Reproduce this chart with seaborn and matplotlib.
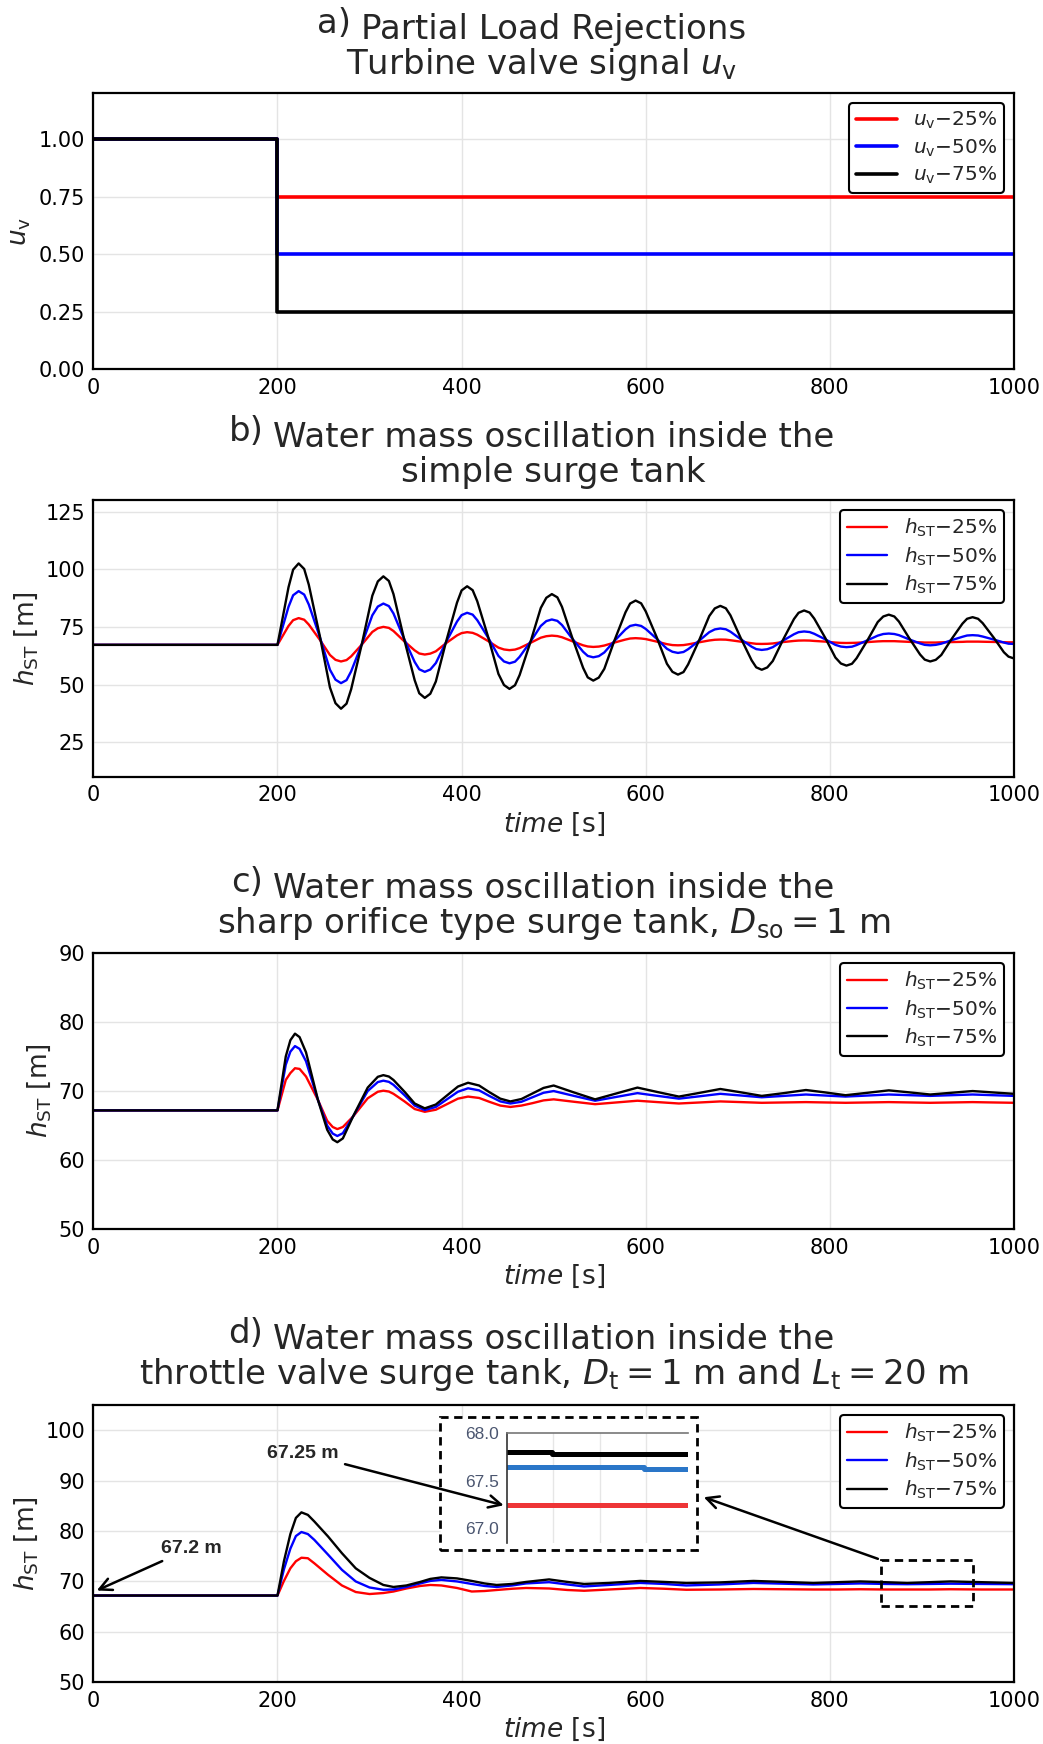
import matplotlib
matplotlib.use("Agg")
import matplotlib.pyplot as plt
import seaborn as sns
from matplotlib.patches import Rectangle

# ---- a) turbine valve signal
time_a = [0, 200, 200, 1000]
uv_25 = [1.0, 1.0, 0.75, 0.75]
uv_50 = [1.0, 1.0, 0.50, 0.50]
uv_75 = [1.0, 1.0, 0.25, 0.25]

# ---- b) simple surge tank
time_b = [0, 200, 212, 217, 223, 229, 234, 246, 257, 263, 269, 275,
          280, 292, 303, 309, 315, 321, 326, 337, 349, 354, 360, 366,
          372, 383, 395, 400, 406, 412, 417, 429, 440, 446, 452, 458,
          463, 475, 486, 492, 498, 504, 509, 520, 532, 537, 543, 549,
          555, 566, 578, 583, 589, 595, 600, 612, 623, 629, 635, 641,
          646, 658, 669, 675, 681, 687, 692, 703, 715, 720, 726, 732,
          738, 749, 761, 766, 772, 778, 783, 795, 806, 812, 818, 824,
          829, 841, 852, 858, 864, 870, 875, 886, 898, 903, 909, 915,
          921, 932, 944, 949, 955, 961, 966, 978, 989, 994, 1000]
hb_75 = [67.2, 67.2, 92.2, 99.8, 102.5, 100.1, 93.3, 71.0, 48.7, 41.9, 39.5, 41.7,
         47.9, 68.2, 88.5, 94.7, 96.9, 94.9, 89.2, 70.6, 51.9, 46.2, 44.2, 46.0,
         51.3, 68.4, 85.5, 90.8, 92.6, 90.9, 86.1, 70.4, 54.6, 49.8, 48.1, 49.7,
         54.1, 68.7, 83.2, 87.6, 89.2, 87.8, 83.7, 70.5, 57.2, 53.1, 51.7, 53.0,
         56.8, 69.1, 81.3, 85.1, 86.4, 85.2, 81.7, 70.4, 59.0, 55.5, 54.3, 55.4,
         58.7, 69.2, 79.7, 83.0, 84.1, 83.05, 80.0, 70.3, 60.5, 57.45, 56.4, 57.4,
         60.2, 69.3, 78.4, 81.1, 82.1, 81.2, 78.6, 70.2, 61.7, 59.1, 58.2, 59.0,
         61.4, 69.3, 77.1, 79.5, 80.3, 79.5, 77.3, 70.2, 63.0, 60.8, 60.0, 60.7,
         62.8, 69.6, 76.4, 78.5, 79.2, 78.5, 76.6, 70.3, 64.0, 62.1, 61.3]
hb_50 = [67.2, 67.2, 83.7, 88.7, 90.5, 89.0, 84.7, 70.6, 56.4, 52.1, 50.6, 51.9,
         55.7, 67.9, 80.0, 83.8, 85.1, 84.0, 80.8, 70.3, 59.8, 56.6, 55.5, 56.5,
         59.3, 68.3, 77.3, 80.1, 81.1, 80.3, 77.9, 70.2, 62.4, 60.0, 59.2, 59.9,
         62.0, 68.7, 75.4, 77.5, 78.2, 77.6, 75.8, 70.0, 64.2, 62.4, 61.8, 62.3,
         63.9, 68.9, 73.9, 75.4, 75.9, 75.4, 74.1, 69.8, 65.5, 64.2, 63.7, 64.1,
         65.3, 69.0, 72.7, 73.9, 74.3, 73.95, 72.9, 69.7, 66.4, 65.35, 65.0, 65.3,
         66.2, 69.0, 71.8, 72.7, 73.0, 72.75, 72.0, 69.6, 67.2, 66.45, 66.2, 66.4,
         67.1, 69.2, 71.2, 71.9, 72.1, 71.9, 71.4, 69.6, 67.8, 67.2, 67.0, 67.2,
         67.7, 69.2, 70.7, 71.25, 71.4, 71.25, 70.8, 69.5, 68.2, 67.7, 67.6]
hb_25 = [67.2, 67.2, 75.4, 77.9, 78.8, 78.1, 76.0, 69.4, 62.8, 60.7, 60.0, 60.6,
         62.2, 67.5, 72.8, 74.4, 75.0, 74.55, 73.2, 69.0, 64.8, 63.45, 63.0, 63.4,
         64.4, 67.9, 71.3, 72.3, 72.7, 72.4, 71.6, 68.8, 66.0, 65.2, 64.9, 65.15,
         65.8, 68.1, 70.3, 70.95, 71.2, 71.0, 70.5, 68.8, 67.0, 66.5, 66.3, 66.45,
         66.9, 68.2, 69.5, 69.95, 70.1, 69.95, 69.7, 68.6, 67.5, 67.1, 67.0, 67.1,
         67.4, 68.3, 69.1, 69.4, 69.5, 69.45, 69.2, 68.6, 67.9, 67.65, 67.6, 67.65,
         67.8, 68.4, 68.9, 69.05, 69.1, 69.05, 68.9, 68.6, 68.2, 68.05, 68.0, 68.05,
         68.1, 68.4, 68.7, 68.8, 68.8, 68.8, 68.7, 68.5, 68.3, 68.2, 68.2, 68.2,
         68.3, 68.4, 68.5, 68.6, 68.6, 68.6, 68.55, 68.45, 68.35, 68.3, 68.3]

# ---- c) sharp orifice surge tank
time_c = [0, 200, 209, 214, 219, 224, 231, 244, 254, 260, 265, 271,
          282, 298, 309, 315, 321, 326, 338, 349, 360, 372, 384, 396,
          407, 419, 430, 442, 453, 465, 477, 489, 500, 522, 545, 568,
          591, 613, 636, 659, 681, 704, 726, 750, 774, 795, 817, 841,
          864, 887, 909, 932, 955, 977, 1000]
hc_75 = [67.2, 67.2, 75.0, 77.35, 78.3, 77.8, 75.6, 68.7, 64.4, 63.0, 62.6, 63.15,
         66.3, 70.5, 72.06, 72.3, 72.1, 71.6, 69.9, 68.2, 67.5, 68.05, 69.35, 70.65,
         71.2, 70.8, 69.85, 68.9, 68.5, 68.85, 69.65, 70.45, 70.8, 69.8, 68.8, 69.65,
         70.5, 69.85, 69.2, 69.75, 70.3, 69.8, 69.3, 69.7, 70.15, 69.8, 69.4, 69.75,
         70.1, 69.8, 69.5, 69.75, 70.0, 69.8, 69.6]
hc_50 = [67.2, 67.2, 73.8, 75.7, 76.5, 76.1, 74.3, 68.7, 65.0, 63.85, 63.5, 63.9,
         66.3, 70.0, 71.3, 71.5, 71.33, 70.9, 69.4, 67.9, 67.25, 67.7, 68.8, 69.9,
         70.4, 70.1, 69.3, 68.5, 68.2, 68.45, 69.1, 69.75, 70.0, 69.3, 68.6, 69.15,
         69.7, 69.3, 68.9, 69.25, 69.6, 69.35, 69.1, 69.3, 69.5, 69.35, 69.2, 69.35,
         69.5, 69.4, 69.3, 69.4, 69.5, 69.4, 69.3]
hc_25 = [67.2, 67.2, 71.6, 72.6, 73.3, 73.2, 72.1, 68.7, 65.7, 64.8, 64.5, 64.8,
         66.3, 68.95, 69.9, 70.05, 69.93, 69.6, 68.5, 67.4, 67.0, 67.3, 68.1, 68.9,
         69.2, 69.0, 68.45, 67.9, 67.7, 67.9, 68.25, 68.65, 68.8, 68.45, 68.1, 68.35,
         68.6, 68.4, 68.2, 68.35, 68.5, 68.4, 68.3, 68.35, 68.4, 68.35, 68.3, 68.35,
         68.4, 68.35, 68.3, 68.35, 68.4, 68.35, 68.3]

# ---- d) throttle valve surge tank
time_d = [0, 200, 207, 214, 220, 226, 233, 240, 255, 270, 285, 300,
          315, 326, 340, 355, 366, 378, 395, 411, 425, 438, 455, 470,
          495, 515, 533, 560, 594, 620, 644, 680, 717, 750, 782, 808,
          833, 860, 884, 908, 931, 965, 1000]
hd_75 = [67.2, 67.2, 74.0, 79.4, 82.6, 83.7, 83.2, 81.9, 78.9, 75.6, 72.6, 70.7,
         69.3, 68.9, 69.2, 69.9, 70.5, 70.8, 70.6, 70.1, 69.6, 69.3, 69.5, 69.9,
         70.4, 69.9, 69.5, 69.7, 70.1, 69.9, 69.7, 69.8, 70.1, 69.9, 69.7, 69.85,
         70.0, 69.85, 69.7, 69.85, 70.0, 69.85, 69.7]
hd_50 = [67.2, 67.2, 72.4, 76.5, 79.0, 79.8, 79.4, 78.25, 75.3, 72.3, 70.0, 68.8,
         68.35, 68.4, 68.9, 69.6, 70.1, 70.3, 70.0, 69.5, 69.1, 68.9, 69.2, 69.6,
         69.85, 69.4, 69.0, 69.3, 69.7, 69.5, 69.2, 69.4, 69.7, 69.55, 69.4, 69.5,
         69.6, 69.5, 69.45, 69.5, 69.55, 69.5, 69.45]
hd_25 = [67.2, 67.2, 70.1, 72.6, 74.0, 74.7, 74.6, 73.6, 71.3, 69.2, 67.9, 67.5,
         67.7, 68.0, 68.6, 69.1, 69.3, 69.2, 68.7, 68.0, 68.1, 68.3, 68.55, 68.7,
         68.6, 68.3, 68.15, 68.4, 68.7, 68.55, 68.35, 68.4, 68.5, 68.45, 68.4, 68.4,
         68.45, 68.4, 68.4, 68.4, 68.45, 68.4, 68.4]

# zoomed view shown inside panel d
inset_x_75 = [0, 0.97, 0.97, 3.92]
inset_75 = [67.80, 67.80, 67.785, 67.785]
inset_x_50 = [0, 2.97, 2.97, 3.92]
inset_50 = [67.642, 67.642, 67.625, 67.625]
inset_x_25 = [0, 3.92]
inset_25 = [67.24, 67.24]

sns.set_style("white")
plt.rcParams.update({
    "font.family": ["DejaVu Sans"],
    "mathtext.fontset": "dejavusans",
    "xtick.direction": "in",
    "ytick.direction": "in",
    "xtick.labelsize": 15,
    "ytick.labelsize": 15,
    "axes.linewidth": 1.6,
    "axes.edgecolor": "black",
})

fig = plt.figure(figsize=(10.43, 17.44), dpi=100)
L, W = 0.0895, 0.8827
ax_a = fig.add_axes([L, 0.7882, W, 0.1586])
ax_b = fig.add_axes([L, 0.5546, W, 0.1587])
ax_c = fig.add_axes([L, 0.2951, W, 0.1586])
ax_d = fig.add_axes([L, 0.0354, W, 0.1590])


def style(ax, ylim, yticks, ylabel, xlabel=True):
    ax.set_xlim(0, 1000)
    ax.set_ylim(*ylim)
    ax.set_xticks([0, 200, 400, 600, 800, 1000])
    ax.set_yticks(yticks)
    ax.grid(True, color="#e4e4e4", lw=1)
    ax.set_axisbelow(True)
    ax.tick_params(length=7, width=1.5, colors="black", pad=6)
    ax.set_ylabel(ylabel, fontsize=19)
    if xlabel:
        ax.set_xlabel("$time$ [s]", fontsize=19)
    else:
        ax.set_xlabel("")
    leg = ax.legend(loc="upper right", fontsize=14.5, frameon=True, fancybox=True,
                    edgecolor="black", framealpha=1, borderaxespad=0.5,
                    labelspacing=0.3, borderpad=0.35, handlelength=2.0)
    leg.get_frame().set_linewidth(1.5)


def title(ax, tag, line1, line2, base2, dx2=0):
    kw = dict(textcoords="offset points", ha="center", va="baseline", fontsize=24.5)
    base1 = base2 + 25.2
    t1 = ax.annotate(line1, xy=(0.5, 1), xycoords="axes fraction", xytext=(0, base1), **kw)
    ax.annotate(line2, xy=(0.5, 1), xycoords="axes fraction", xytext=(dx2, base2), **kw)
    ax.annotate(tag, xy=(0, 1), xycoords=(t1, "axes fraction"), xytext=(-7, base1 + 4.3),
                textcoords="offset points", ha="right", va="baseline", fontsize=24.5)


lab = r"$u_\mathrm{v}$"
sns.lineplot(x=time_a, y=uv_25, color="red", lw=2.6, label=lab + "−25%", ax=ax_a, estimator=None, sort=False)
sns.lineplot(x=time_a, y=uv_50, color="blue", lw=2.6, label=lab + "−50%", ax=ax_a, estimator=None, sort=False)
sns.lineplot(x=time_a, y=uv_75, color="black", lw=2.6, label=lab + "−75%", ax=ax_a, estimator=None, sort=False)
style(ax_a, (0, 1.2), [0, 0.25, 0.5, 0.75, 1.0], lab, xlabel=False)
ax_a.set_yticklabels(["0.00", "0.25", "0.50", "0.75", "1.00"])
title(ax_a, "a)", "Partial Load Rejections", r"Turbine valve signal $u_\mathrm{v}$", 13.7, dx2=-9)

hl = r"$h_\mathrm{ST}$"
panels = [
    (ax_b, time_b, hb_25, hb_50, hb_75),
    (ax_c, time_c, hc_25, hc_50, hc_75),
    (ax_d, time_d, hd_25, hd_50, hd_75),
]
for ax, t, y25, y50, y75 in panels:
    sns.lineplot(x=t, y=y25, color="red", lw=1.7, label=hl + "−25%", ax=ax, estimator=None, sort=False)
    sns.lineplot(x=t, y=y50, color="blue", lw=1.7, label=hl + "−50%", ax=ax, estimator=None, sort=False)
    sns.lineplot(x=t, y=y75, color="black", lw=1.7, label=hl + "−75%", ax=ax, estimator=None, sort=False)

style(ax_b, (10, 130), [25, 50, 75, 100, 125], hl + " [m]")
style(ax_c, (50, 90), [50, 60, 70, 80, 90], hl + " [m]")
style(ax_d, (50, 105), [50, 60, 70, 80, 90, 100], hl + " [m]")

title(ax_b, "b)", "Water mass oscillation inside the", "simple surge tank", 12.7)
title(ax_c, "c)", "Water mass oscillation inside the",
      r"sharp orifice type surge tank, $D_\mathrm{so} = 1$ m", 14.0)
title(ax_d, "d)", "Water mass oscillation inside the",
      r"throttle valve surge tank, $D_\mathrm{t} = 1$ m and $L_\mathrm{t} = 20$ m", 15.1)

# ---- panel d: zoom box, inset and arrows
ax_d.add_patch(Rectangle((376, 76.3), 280, 26.3, facecolor="white", edgecolor="black",
                         lw=2, ls=(0, (3, 2)), zorder=3))
ax_d.add_patch(Rectangle((855, 65.05), 101, 9.25, facecolor="none", edgecolor="black",
                         lw=2, ls=(0, (3, 2)), zorder=4))

ins = ax_d.inset_axes([449.3, 77.6, 197.1, 21.8], transform=ax_d.transData)
ins.set_facecolor("none")
sns.lineplot(x=inset_x_25, y=inset_25, color="#ee3537", lw=3.6, ax=ins, estimator=None, sort=False)
sns.lineplot(x=inset_x_50, y=inset_50, color="#2a76c8", lw=3.6, ax=ins, estimator=None, sort=False)
sns.lineplot(x=inset_x_75, y=inset_75, color="black", lw=3.6, ax=ins, estimator=None, sort=False)
ins.set_xlim(0, 3.92)
ins.set_ylim(66.84, 68.0)
ins.set_xticks([1, 2, 3])
ins.set_xticklabels([])
ins.set_yticks([67.0, 67.5, 68.0])
ins.set_yticklabels(["67.0", "67.5", "68.0"], family="Liberation Sans", fontsize=12.5, color="#4b5670")
ins.tick_params(axis="x", length=0)
ins.tick_params(axis="y", direction="out", length=4, width=1, color="#444444", pad=2)
ins.grid(True, axis="x", color="#e6e6e6", lw=1)
for s in ["right", "bottom"]:
    ins.spines[s].set_visible(False)
ins.spines["top"].set_color("#777777")
ins.spines["top"].set_linewidth(1.2)
ins.spines["left"].set_color("#333333")
ins.spines["left"].set_linewidth(1.2)
ins.set_xlabel("")
ins.set_ylabel("")

arrow = dict(arrowstyle="->", lw=1.8, color="black", mutation_scale=22, shrinkA=2, shrinkB=0)
ax_d.annotate("67.2 m", xy=(3.7, 68.2), xytext=(106, 76.6), ha="center", va="center",
              fontsize=14, fontweight="bold", family="Liberation Sans", arrowprops=arrow, zorder=6)
ax_d.annotate("67.25 m", xy=(445.7, 85.1), xytext=(228, 95.4), ha="center", va="center",
              fontsize=14, fontweight="bold", family="Liberation Sans", arrowprops=arrow, zorder=6)
ax_d.annotate("", xy=(663, 86.7), xytext=(855, 74.3), arrowprops=arrow, zorder=6)

fig.savefig("out.png", dpi=100)
